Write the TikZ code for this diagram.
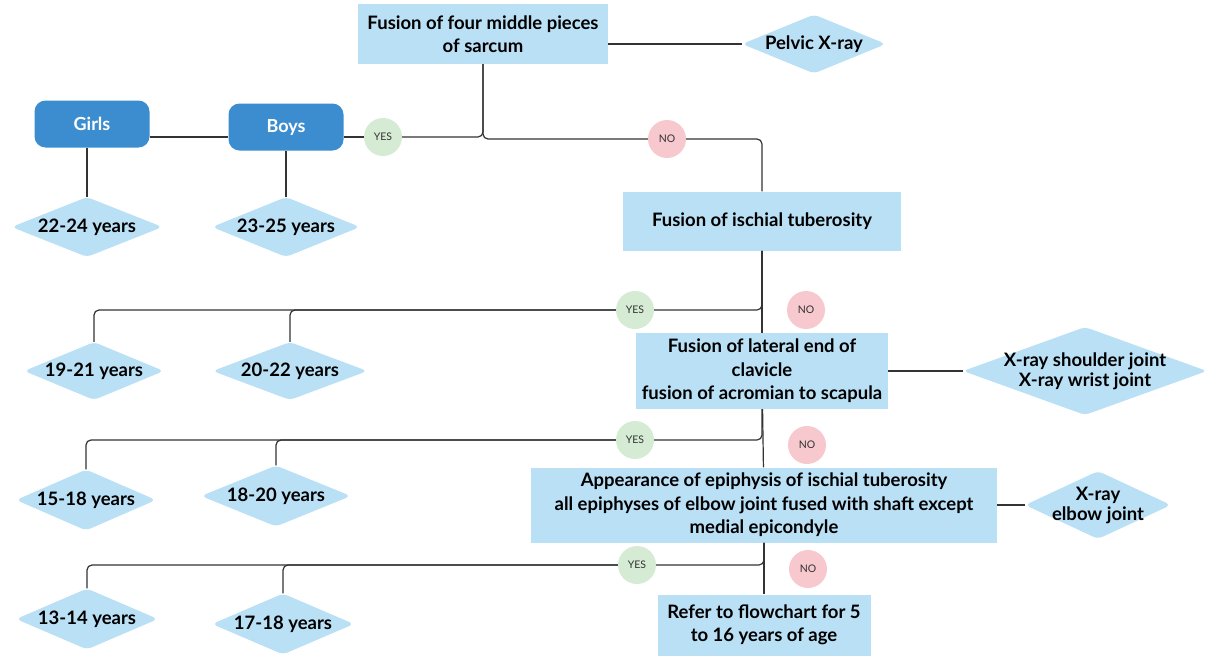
\documentclass[tikz,border=0pt]{standalone}
\usepackage{fontspec}
\setmainfont{Lato}
\usepackage{xcolor}
\usepackage{tikz}
\usetikzlibrary{shapes,arrows,positioning,fit,calc}

\definecolor{boxblue}{HTML}{BAE0F5}
\definecolor{sexblue}{HTML}{3C8DD0}
\definecolor{yesgreen}{HTML}{D5EBD3}
\definecolor{nopink}{HTML}{F8C8CF}
\definecolor{linegray}{HTML}{333333}

\tikzset{
    stepbox/.style={rectangle, fill=boxblue, align=center, inner sep=2pt, font=\bfseries\fontsize{18.5}{23.5}\selectfont},
    sexbox/.style={rectangle, rounded corners=11pt, fill=sexblue, text=white, minimum width=115, minimum height=47, font=\bfseries\fontsize{18}{20}\selectfont},
    agediamond/.style={diamond, fill=boxblue, rounded corners=5pt, aspect=2.5, inner sep=0pt, align=center, font=\bfseries\fontsize{18.5}{20}\selectfont},
    yesdot/.style={circle, fill=yesgreen, minimum size=38, inner sep=0pt, text=linegray, font=\fontsize{10.5}{10.5}\selectfont},
    nodot/.style={circle, fill=nopink, minimum size=38, inner sep=0pt, text=linegray, font=\fontsize{10.5}{10.5}\selectfont},
    link/.style={draw=linegray, line width=1.2pt, rounded corners=5pt}
}

\begin{document}
\begin{tikzpicture}[x=1pt, y=-1pt]
    \useasboundingbox (0,0) rectangle (1207,656);

    % questions down the middle
    \node (sacrum) [stepbox, minimum width=250, minimum height=60] at (483,34) {Fusion of four middle pieces\\of sarcum};
    \node (ischial) [stepbox, minimum width=278, minimum height=59] at (762,221) {Fusion of ischial tuberosity};
    \node (clavicle) [stepbox, minimum width=252, minimum height=76] at (762,371) {Fusion of lateral end of\\clavicle\\fusion of acromian to scapula};
    \node (elbow) [stepbox, minimum width=466, minimum height=75] at (764,505) {Appearance of epiphysis of ischial tuberosity\\all epiphyses of elbow joint fused with shaft except\\medial epicondyle};
    \node (refer) [stepbox, minimum width=213, minimum height=61] at (764,625) {Refer to flowchart for 5\\to 16 years of age};

    % x-rays to the right
    \node (pelvic) [agediamond, minimum width=144, minimum height=59] at (814,44) {Pelvic X-ray};
    \node (shoulder) [agediamond, inner sep=-12pt, minimum width=244, minimum height=88] at (1085,371) {X-ray shoulder joint\\X-ray wrist joint};
    \node (elbowray) [agediamond, inner sep=-12pt, minimum width=146, minimum height=68] at (1098,505) {X-ray\\elbow joint};

    % sex split
    \node (girls) [sexbox] at (92,124) {Girls};
    \node (boys) [sexbox] at (286,127) {Boys};

    % ages
    \node (g2224) [agediamond, minimum width=151, minimum height=60] at (87,227) {22-24 years};
    \node (b2325) [agediamond, minimum width=148, minimum height=60] at (286,227) {23-25 years};
    \node (g1921) [agediamond, minimum width=138, minimum height=58] at (94,371) {19-21 years};
    \node (b2022) [agediamond, minimum width=155, minimum height=58] at (290,371) {20-22 years};
    \node (g1518) [agediamond, minimum width=140, minimum height=61] at (86,500) {15-18 years};
    \node (b1820) [agediamond, minimum width=150, minimum height=61] at (276,496) {18-20 years};
    \node (g1314) [agediamond, minimum width=142, minimum height=61] at (87,619) {13-14 years};
    \node (b1718) [agediamond, minimum width=142, minimum height=61] at (283,624) {17-18 years};

    % answers
    \node (yes1) [yesdot] at (383,137) {YES};
    \node (no1) [nodot] at (667,139) {NO};
    \node (yes2) [yesdot] at (635,310) {YES};
    \node (no2) [nodot] at (806,310) {NO};
    \node (yes3) [yesdot] at (635,440) {YES};
    \node (no3) [nodot] at (807,445) {NO};
    \node (yes4) [yesdot] at (637,565) {YES};
    \node (no4) [nodot] at (808,569) {NO};

    % links
    \draw [link] (sacrum.east |- pelvic) -- (pelvic);
    \draw [link] (sacrum) |- (yes1);
    \draw [link] (sacrum) |- (no1);
    \draw [link] (no1) -| (ischial);
    \draw [link] (boys.east |- yes1) -- (yes1);
    \draw [link] (girls.east |- yes1) -- (boys.west |- yes1);
    \draw [link] (girls.south -| g2224) -- (g2224);
    \draw [link] (boys) -- (b2325);

    \draw [link] (ischial) |- (yes2);
    \draw [link] (yes2) -| (g1921);
    \draw [link] (b2022) |- (yes2);
    \draw [link] (ischial) -- (clavicle);

    \draw [link] (clavicle) -- (shoulder);
    \draw [link] (clavicle) |- (yes3);
    \draw [link] (yes3) -| (g1518);
    \draw [link] (b1820) |- (yes3);
    \draw [link] (clavicle) -- (elbow);

    \draw [link] (elbow) -- (elbowray);
    \draw [link] (elbow) |- (yes4);
    \draw [link] (yes4) -| (g1314);
    \draw [link] (b1718) |- (yes4);
    \draw [link] (elbow) -- (refer);
\end{tikzpicture}
\end{document}
